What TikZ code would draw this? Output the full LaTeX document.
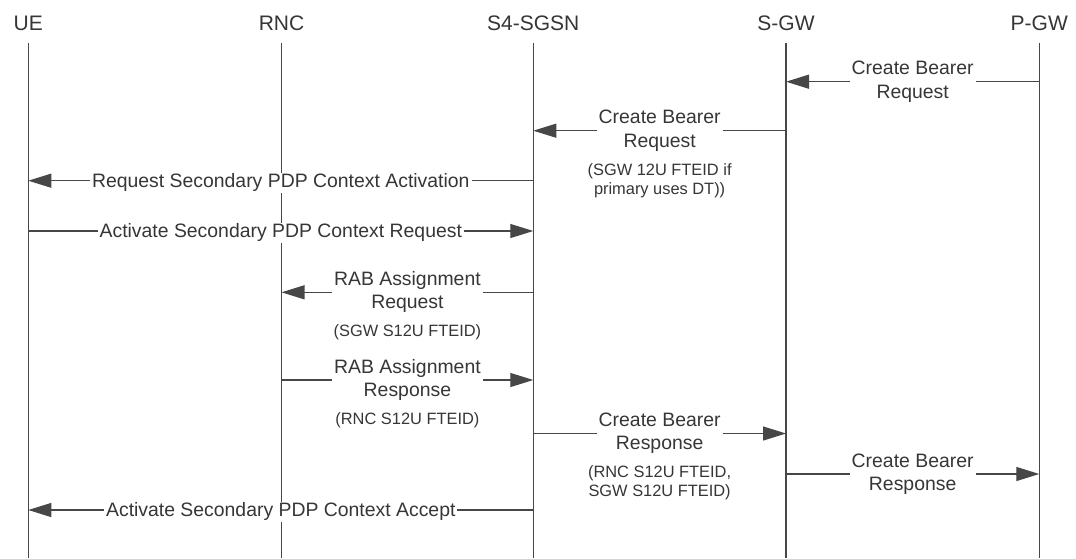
\documentclass[tikz,border=0pt]{standalone}
\usepackage{fontspec}
\setmainfont{Liberation Sans}
\usetikzlibrary{arrows.meta}
\definecolor{ln}{HTML}{474747}
\definecolor{tx}{HTML}{363636}
\begin{document}
\begin{tikzpicture}[x=1pt,y=-1pt,
  hdr/.style={font=\fontsize{21}{25}\selectfont, text=tx, inner sep=0pt, anchor=base},
  life/.style={draw=ln, line width=1.2pt, shorten <=13pt},
  msg/.style={draw=ln, line width=1.2pt, -{Triangle[length=23pt,width=14pt]}},
  lbl/.style={font=\fontsize{19.4}{23.3}\selectfont, text=tx, fill=white, align=center, inner xsep=2pt, inner ysep=1pt},
  lblone/.style={lbl, anchor=base, yshift=-6.9pt},
  note/.style={font=\fontsize{16.4}{18.8}\selectfont, text=tx, align=center, inner sep=0pt, anchor=north}
]
\useasboundingbox (0,0) rectangle (1076,558);
\fill[white] (0,0) rectangle (1076,558);

% headers
\node[hdr] (ue)   at (28.3,30)   {UE};
\node[hdr] (rnc)  at (281.5,30)  {RNC};
\node[hdr] (sgsn) at (533.3,30)  {S4-SGSN};
\node[hdr] (sgw)  at (786,30)    {S-GW};
\node[hdr] (pgw)  at (1039.3,30) {P-GW};

% lifeline ends
\coordinate (ueb)   at (28.3,558);
\coordinate (rncb)  at (281.5,558);
\coordinate (sgsnb) at (533.3,558);
\coordinate (sgwb)  at (786,558);
\coordinate (pgwb)  at (1039.3,558);

\draw[life] (ue.south) -- (ueb);
\draw[life] (rnc.south) -- (rncb);
\draw[life] (sgsn.south) -- (sgsnb);
\draw[life] (sgw.south) -- (sgwb);
\draw[life] (pgw.south) -- (pgwb);

% message anchor points
\coordinate (p1) at (1039.3,81.7);  \coordinate (g1) at (786,81.7);
\coordinate (g2) at (786,130.7);    \coordinate (s2) at (533.3,130.7);
\coordinate (s3) at (533.3,180.7);  \coordinate (u3) at (28.3,180.7);
\coordinate (u4) at (28.3,231);     \coordinate (s4) at (533.3,231);
\coordinate (s5) at (533.3,292.3);  \coordinate (r5) at (281.5,292.3);
\coordinate (r6) at (281.5,380);    \coordinate (s6) at (533.3,380);
\coordinate (s7) at (533.3,433.5);  \coordinate (g7) at (786,433.5);
\coordinate (g8) at (786,474);      \coordinate (p8) at (1039.3,474);
\coordinate (s9) at (533.3,510);    \coordinate (u9) at (28.3,510);

% messages
\draw[msg] (p1) -- (g1) node[lbl, midway] (l1) {Create Bearer\\Request};
\draw[msg] (g2) -- (s2) node[lbl, midway] (l2) {Create Bearer\\Request};
\node[note] (n2) at (659.6,163.2) {(SGW 12U FTEID if\\primary uses DT))};
\draw[msg] (s3) -- (u3) node[lblone, midway] (l3) {Request Secondary PDP Context Activation};
\draw[msg] (u4) -- (s4) node[lblone, midway] (l4) {Activate Secondary PDP Context Request};
\draw[msg] (s5) -- (r5) node[lbl, midway] (l5) {RAB Assignment\\Request};
\node[note] (n5) at (407.4,324.8) {(SGW S12U FTEID)};
\draw[msg] (r6) -- (s6) node[lbl, midway] (l6) {RAB Assignment\\Response};
\node[note] (n6) at (407.4,412.5) {(RNC S12U FTEID)};
\draw[msg] (s7) -- (g7) node[lbl, midway] (l7) {Create Bearer\\Response};
\node[note] (n7) at (659.6,465.5) {(RNC S12U FTEID,\\SGW S12U FTEID)};
\draw[msg] (g8) -- (p8) node[lbl, midway] (l8) {Create Bearer\\Response};
\draw[msg] (s9) -- (u9) node[lblone, midway] (l9) {Activate Secondary PDP Context Accept};
\end{tikzpicture}
\end{document}
